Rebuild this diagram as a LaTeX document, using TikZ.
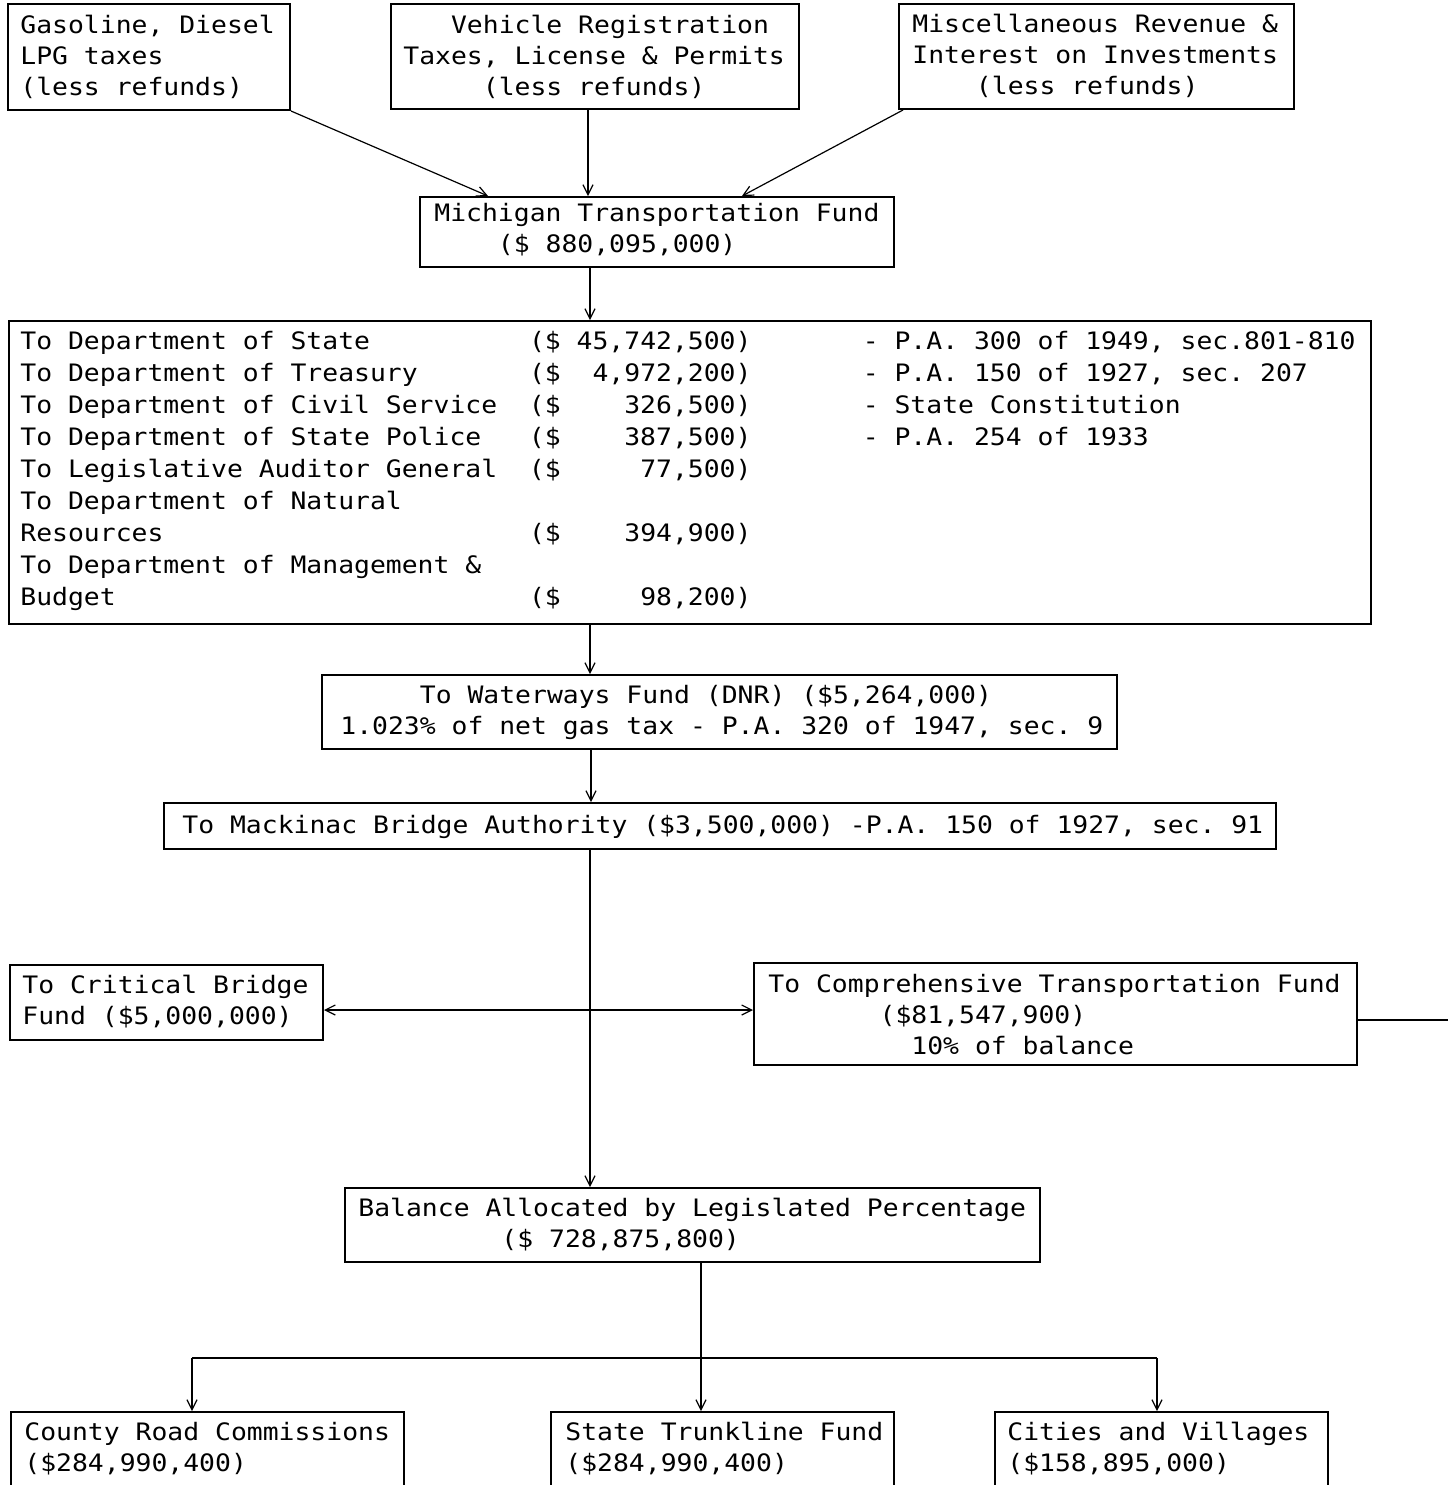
\documentclass[tikz,border=0pt]{standalone}
\usepackage{fontspec}
\usetikzlibrary{arrows.meta,calc}
\newfontfamily\mono[FakeStretch=1.1]{DejaVu Sans Mono}
\newlength\cw
\AtBeginDocument{\settowidth\cw{\mono\fontsize{12}{14}\selectfont 0}}
\newcommand\ind[1]{\hspace*{#1\cw}}
\newcommand\lines[2]{\mono\fontsize{12}{#1}\selectfont\frenchspacing\begin{tabular}{@{}l@{}}#2\end{tabular}}
\newcommand\drow[3]{\makebox[32\cw][l]{#1}\makebox[21\cw][l]{(\$\makebox[11\cw][r]{#2})}#3}
\tikzset{
  box/.style={draw, line width=1pt, inner sep=0pt, anchor=north west},
  txt/.style={anchor=north west, inner sep=0pt, yshift=0.7*#1},
  conn/.style={line width=0.6pt},
  arr/.style={conn, -{Straight Barb[length=5pt,width=5pt]}},
}
\begin{document}
\begin{tikzpicture}[x=0.5pt, y=-0.5pt]
\useasboundingbox (0,0) rectangle (1448,1485);
\fill[white] (0,0) rectangle (1448,1485);
\clip (0,0) rectangle (1448,1485);

% boxes
\node[box, minimum width=141pt, minimum height=53pt] (gas) at (7,3) {};
\node[box, minimum width=204pt, minimum height=52.5pt] (veh) at (390,3) {};
\node[box, minimum width=197.5pt, minimum height=52.5pt] (misc) at (898,3) {};
\node[box, minimum width=237pt, minimum height=35pt] (mtf) at (419,196) {};
\node[box, minimum width=681pt, minimum height=151.5pt] (dept) at (8,320) {};
\node[box, minimum width=397.5pt, minimum height=37pt] (water) at (321,674) {};
\node[box, minimum width=556pt, minimum height=23pt] (mack) at (163,802) {};
\node[box, minimum width=156.5pt, minimum height=37.5pt] (crit) at (9,964) {};
\node[box, minimum width=301.5pt, minimum height=51pt] (ctf) at (753,962) {};
\node[box, minimum width=347.5pt, minimum height=37pt] (bal) at (344,1187) {};
\node[box, minimum width=196.5pt, minimum height=60pt] (county) at (10,1411) {};
\node[box, minimum width=171.5pt, minimum height=60pt] (state) at (550,1411) {};
\node[box, minimum width=166.5pt, minimum height=60pt] (cities) at (994,1411) {};

% texts
\node[txt=15.5pt] (gast) at (20,33) {\lines{15.5pt}{Gasoline, Diesel\\LPG taxes\\(less refunds)}};
\node[txt=15.5pt] (veht) at (403,33) {\lines{15.5pt}{\ind{3}Vehicle Registration\\Taxes, License \& Permits\\\ind{5}(less refunds)}};
\node[txt=15.5pt] (misct) at (912,32) {\lines{15.5pt}{Miscellaneous Revenue \&\\Interest on Investments\\\ind{4}(less refunds)}};
\node[txt=15.5pt] (mtft) at (434,221) {\lines{15.5pt}{Michigan Transportation Fund\\\ind{4}(\$ 880,095,000)}};
\node[txt=16pt] (deptt) at (20,349) {\lines{16pt}{%
\drow{To Department of State}{45,742,500}{- P.A. 300 of 1949, sec.801-810}\\
\drow{To Department of Treasury}{4,972,200}{- P.A. 150 of 1927, sec. 207}\\
\drow{To Department of Civil Service}{326,500}{- State Constitution}\\
\drow{To Department of State Police}{387,500}{- P.A. 254 of 1933}\\
\drow{To Legislative Auditor General}{77,500}{}\\
To Department of Natural\\
\drow{Resources}{394,900}{}\\
To Department of Management \&\\
\drow{Budget}{98,200}{}}};
\node[txt=15.5pt] (watert) at (340,703) {\lines{15.5pt}{\ind{5}To Waterways Fund (DNR) (\$5,264,000)\\1.023\% of net gas tax - P.A. 320 of 1947, sec. 9}};
\node[txt=15.5pt] (mackt) at (182,833) {\lines{15.5pt}{To Mackinac Bridge Authority (\$3,500,000) -P.A. 150 of 1927, sec. 91}};
\node[txt=15.5pt] (critt) at (22,993) {\lines{15.5pt}{To Critical Bridge\\Fund (\$5,000,000)}};
\node[txt=15.5pt] (ctft) at (768,992) {\lines{15.5pt}{To Comprehensive Transportation Fund\\\ind{7}(\$81,547,900)\\\ind{9}10\% of balance}};
\node[txt=15.5pt] (balt) at (358,1216) {\lines{15.5pt}{Balance Allocated by Legislated Percentage\\\ind{9}(\$ 728,875,800)}};
\node[txt=15.5pt] (countyt) at (24,1440) {\lines{15.5pt}{County Road Commissions\\(\$284,990,400)}};
\node[txt=15.5pt] (statet) at (565,1440) {\lines{15.5pt}{State Trunkline Fund\\(\$284,990,400)}};
\node[txt=15.5pt] (citiest) at (1007,1440) {\lines{15.5pt}{Cities and Villages\\(\$158,895,000)}};

% connectors
\draw[arr] (gas.south east) -- ($(mtf.north west)+(69,0)$);
\draw[arr] ($(veh.south west)+(198,0)$) -- ($(mtf.north west)+(169,0)$);
\draw[arr] ($(misc.south west)+(5,0)$) -- ($(mtf.north west)+(323,0)$);
\draw[arr] ($(mtf.south west)+(171,0)$) -- ($(dept.north west)+(582,0)$);
\draw[arr] ($(dept.south west)+(582,0)$) -- ($(water.north west)+(269,0)$);
\draw[arr] ($(water.south west)+(270,0)$) -- ($(mack.north west)+(428,0)$);
\draw[arr] ($(mack.south west)+(427,0)$) -- ($(bal.north west)+(246,0)$);
\draw[conn, {Straight Barb[length=5pt,width=5pt]}-{Straight Barb[length=5pt,width=5pt]}]
  ($(crit.north east)+(0,46)$) -- ($(ctf.north west)+(0,48)$);
\coordinate (edge) at (1448,1020);
\draw[conn] ($(ctf.north east)+(0,58)$) -- (edge);
\coordinate (jl) at (192,1358);
\coordinate (jr) at (1157,1358);
\draw[conn] (jl) -- (jr);
\draw[arr] ($(bal.south west)+(357,0)$) -- ($(state.north west)+(151,0)$);
\draw[arr] (jl) -- ($(county.north west)+(182,0)$);
\draw[arr] (jr) -- ($(cities.north west)+(163,0)$);
\end{tikzpicture}
\end{document}
